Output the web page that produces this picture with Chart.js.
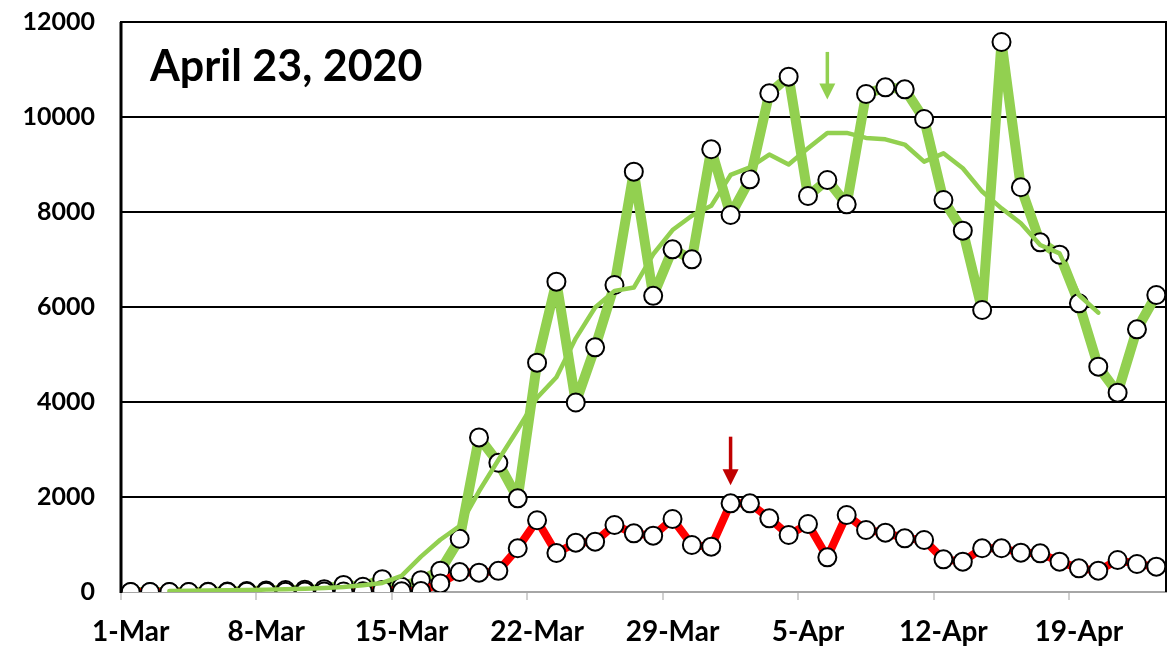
<!DOCTYPE html>
<html>
<head>
<meta charset="utf-8">
<script src="https://cdn.jsdelivr.net/npm/chart.js@4"></script>
<style>
  html, body { margin: 0; padding: 0; background: #fff; }
  #wrap { width: 1168px; height: 649px; position: relative; }
</style>
</head>
<body>
<div id="wrap"><canvas id="c" width="1168" height="649"></canvas></div>
<script>
// ---- data ----
const titleText = "April 23, 2020";
const categories = ["1-Mar","2-Mar","3-Mar","4-Mar","5-Mar","6-Mar","7-Mar","8-Mar","9-Mar","10-Mar",
  "11-Mar","12-Mar","13-Mar","14-Mar","15-Mar","16-Mar","17-Mar","18-Mar","19-Mar","20-Mar",
  "21-Mar","22-Mar","23-Mar","24-Mar","25-Mar","26-Mar","27-Mar","28-Mar","29-Mar","30-Mar",
  "31-Mar","1-Apr","2-Apr","3-Apr","4-Apr","5-Apr","6-Apr","7-Apr","8-Apr","9-Apr",
  "10-Apr","11-Apr","12-Apr","13-Apr","14-Apr","15-Apr","16-Apr","17-Apr","18-Apr","19-Apr",
  "20-Apr","21-Apr","22-Apr","23-Apr"];
const tickLabels = ["1-Mar","8-Mar","15-Mar","22-Mar","29-Mar","5-Apr","12-Apr","19-Apr"];
const greenDaily = [0,0,0,0,5,10,20,30,40,50,
  60,150,110,270,110,250,450,1120,3255,2720,
  1972,4828,6533,3990,5151,6463,8849,6235,7214,7004,
  9320,7937,8688,10499,10849,8337,8674,8162,10484,10625,
  10583,9958,8253,7607,5937,11579,8520,7362,7102,6077,
  4744,4196,5530,6253];
const redDaily = [0,0,0,0,0,0,5,5,5,10,
  10,10,15,40,15,20,180,420,407,445,
  920,1510,820,1038,1060,1411,1235,1186,1537,990,
  954,1867,1867,1551,1200,1432,730,1621,1305,1249,
  1130,1095,688,639,920,920,828,814,639,498,
  449,674,589,533];
const greenAverage = [null,null,20,25,30,35,40,50,60,70,
  85,105,140,190,340,745,1100,1390,2120,2780,
  3420,4090,4520,5340,5990,6340,6410,7110,7620,7920,
  8130,8780,8940,9210,9000,9340,9665,9665,9560,9530,
  9420,9060,9235,8920,8430,8077,7762,7305,7130,6253,
  5880,null,null,null];
// arrows: category, start value, tip value
const arrowCats = ["6-Apr","1-Apr"];
const arrowFrom = [11370, 3270];
const arrowTo   = [10370, 2250];
const arrowColors = ["#92d050","#c00000"];

const GREEN = "#92d050", RED = "#ff0000";
const FONT = "Lato, 'Open Sans', 'Liberation Sans', sans-serif";

const framePlugin = {
  id: 'frame',
  afterDatasetsDraw(chart) {
    const {ctx, chartArea: a} = chart;
    ctx.save();
    ctx.strokeStyle = '#000';
    ctx.lineWidth = 2;
    ctx.beginPath();
    ctx.moveTo(a.left, a.bottom); ctx.lineTo(a.left, a.top); ctx.lineTo(a.right, a.top); ctx.lineTo(a.right, a.bottom);
    ctx.stroke();
    ctx.lineWidth = 3;
    ctx.beginPath(); ctx.moveTo(a.left, a.bottom + 1); ctx.lineTo(a.left, a.top); ctx.stroke();
    // title
    ctx.fillStyle = '#000';
    ctx.font = "bold 43px " + FONT;
    ctx.textBaseline = 'alphabetic';
    ctx.textAlign = 'left';
    ctx.fillText(titleText, a.left + 29, 81);
    // arrows
    const xs = chart.scales.x, ys = chart.scales.y;
    for (let i = 0; i < arrowCats.length; i++) {
      const x = xs.getPixelForValue(categories.indexOf(arrowCats[i]));
      const y0 = ys.getPixelForValue(arrowFrom[i]);
      const y1 = ys.getPixelForValue(arrowTo[i]);
      const headH = 16, headW = 8;
      ctx.strokeStyle = arrowColors[i];
      ctx.fillStyle = arrowColors[i];
      ctx.lineWidth = 3.5;
      ctx.beginPath(); ctx.moveTo(x, y0); ctx.lineTo(x, y1 - headH + 1); ctx.stroke();
      ctx.beginPath(); ctx.moveTo(x - headW, y1 - headH); ctx.lineTo(x + headW, y1 - headH); ctx.lineTo(x, y1); ctx.closePath(); ctx.fill();
    }
    ctx.restore();
  }
};

const markerStyle = {
  pointRadius: 9, pointHoverRadius: 9,
  pointBackgroundColor: '#ffffff', pointBorderColor: '#000000', pointBorderWidth: 2,
  tension: 0, fill: false
};

new Chart(document.getElementById('c'), {
  type: 'line',
  data: {
    labels: categories,
    datasets: [
      { label: 'avg', data: greenAverage, borderColor: GREEN, borderWidth: 4.5, pointRadius: 0, tension: 0, fill: false, spanGaps: false, borderJoinStyle: 'round', borderCapStyle: 'round' },
      Object.assign({ label: 'red', data: redDaily, borderColor: RED, borderWidth: 8, borderJoinStyle: 'round' }, markerStyle),
      Object.assign({ label: 'green', data: greenDaily, borderColor: GREEN, borderWidth: 10, borderJoinStyle: 'round' }, markerStyle)
    ]
  },
  options: {
    responsive: false,
    animation: false,
    events: [],
    layout: { autoPadding: false, padding: { left: 0, right: 2, top: 22, bottom: 0 } },
    plugins: { legend: { display: false }, tooltip: { enabled: false } },
    scales: {
      x: {
        type: 'category',
        offset: true,
        afterFit(s) { s.height = 57; s.paddingLeft = 0; s.paddingRight = 0; },
        grid: {
          offset: true, drawOnChartArea: false, tickLength: 8, lineWidth: 2,
          color: (c) => (c.index % 7 === 0 ? '#d0d0d0' : 'rgba(0,0,0,0)')
        },
        border: { display: true, color: '#a6a6a6', width: 2 },
        ticks: {
          autoSkip: false, maxRotation: 0, minRotation: 0, padding: 15, color: '#000',
          font: { family: FONT, size: 28, weight: 'bold' },
          callback: function (v, i) { const l = categories[i]; return tickLabels.includes(l) ? l : ''; }
        }
      },
      y: {
        min: 0, max: 12000,
        afterFit(s) { s.width = 121; s.paddingTop = 0; s.paddingBottom = 0; },
        grid: {
          drawTicks: false, lineWidth: 2,
          color: (c) => (c.tick && c.tick.value === 0 ? 'rgba(0,0,0,0)' : '#000')
        },
        border: { display: false },
        ticks: {
          stepSize: 2000, padding: 26, color: '#000',
          font: { family: FONT, size: 25, weight: 'bold' },
          callback: (v) => String(v)
        }
      }
    }
  },
  plugins: [framePlugin]
});
</script>
</body>
</html>
